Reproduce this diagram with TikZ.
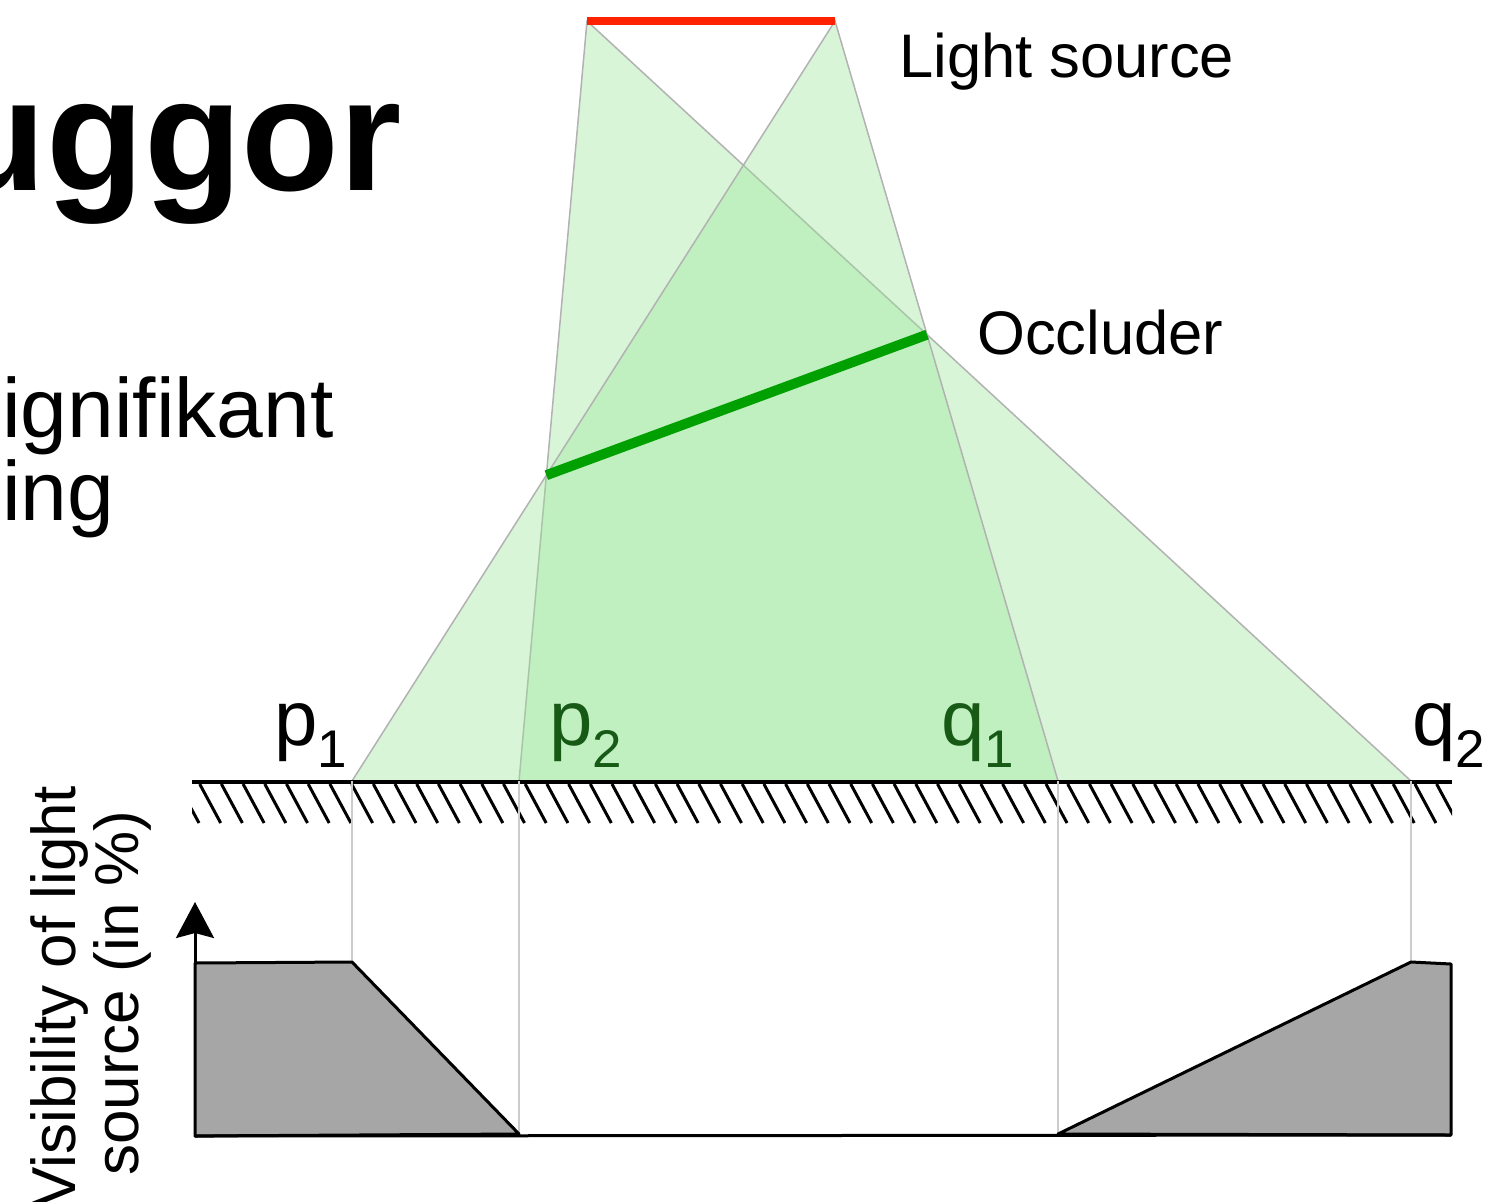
\documentclass[tikz,border=0pt]{standalone}
\usepackage{fontspec}
\setmainfont{Liberation Sans}
\usepackage{xcolor}
\usepackage{tikz}
\usetikzlibrary{arrows.meta}
\definecolor{srcred}{RGB}{255,34,0}
\definecolor{occgreen}{RGB}{0,160,0}
\definecolor{beamgreen}{RGB}{154,229,154}
\definecolor{lblgreen}{RGB}{22,90,22}
\newcommand{\ptlbl}[2]{#1\raisebox{-22pt}{\fontsize{53}{53}\selectfont#2}}

\begin{document}
\begin{tikzpicture}[x=1pt,y=-1pt]
  \tikzstyle{beam}=[fill=beamgreen,fill opacity=.385,draw=black!30,line width=1.5pt]
  \tikzstyle{tick}=[draw=black!20,line width=2pt]
  \tikzstyle{curve}=[fill=black!35,draw=black,line width=3pt,line join=round]
  \tikzstyle{pt}=[anchor=base west,inner sep=0pt,font=\fontsize{78}{78}\selectfont]
  \tikzstyle{lbl}=[anchor=base west,inner sep=0pt,font=\fontsize{61.5}{61.5}\selectfont]
  \tikzstyle{axlbl}=[rotate=90,anchor=base,inner sep=0pt,font=\fontsize{62}{62}\selectfont]
  \useasboundingbox (0,0) rectangle (1487,1201);
  \coordinate (ls1) at (587,21);
  \coordinate (ls2) at (835,21);
  \coordinate (p1) at (352,781);
  \coordinate (p2) at (519,781);
  \coordinate (q1) at (1058,781);
  \coordinate (q2) at (1411,781);
  \coordinate (oc1) at (intersection of ls1--p2 and ls2--p1);
  \coordinate (oc2) at (intersection of ls1--q2 and ls2--q1);
  \draw[beam] (ls1)--(p2)--(q2)--cycle;
  \draw[beam] (ls2)--(p1)--(q1)--cycle;
  \draw[srcred,line width=8pt] (ls1)--(ls2);
  \draw[occgreen,line width=10pt] (oc1)--(oc2);
  % ground
  \begin{scope}
    \clip (192,784) rectangle (1452,823);
    \foreach \k in {0,...,59} \draw[line width=3pt] (178+21.7*\k,784)--++(21,39);
  \end{scope}
  \draw[line width=3.5pt] (192,782)--(1452,782);
  % visibility curve
  \coordinate (g0) at (195,963);
  \coordinate (g1) at (352,962);
  \coordinate (g2) at (519,1134);
  \coordinate (g3) at (1058,1134);
  \coordinate (g4) at (1411,962);
  \coordinate (g5) at (1451,964);
  \coordinate (g6) at (1451,1135);
  \coordinate (g7) at (195,1136);
  \coordinate (ytop) at (195,902);
  \draw[tick] (p1)--(g1);
  \draw[tick] (p2)--(g2);
  \draw[tick] (q1)--(g3);
  \draw[tick] (q2)--(g4);
  \draw[curve] (g0)--(g1)--(g2)--(g7)--cycle;
  \draw[curve] (g3)--(g4)--(g5)--(g6)--cycle;
  \draw[line width=3pt] (g7)--(g6);
  \draw[line width=3pt,-{Stealth[width=38pt,length=36pt,inset=5pt]}] (g0)--(ytop);
  % texts
  \node[anchor=base east,inner sep=0pt,font=\fontsize{160}{160}\selectfont\bfseries] (title) at (402,190) {uggor};
  \node[anchor=base west,inner sep=0pt,font=\fontsize{84}{84}\selectfont] (body1) at (2,437) {ignifikant};
  \node[anchor=base west,inner sep=0pt,font=\fontsize{84}{84}\selectfont] (body2) at (2,520) {ing};
  \node[lbl] (srclbl) at (899,78) {Light source};
  \node[lbl] (occlbl) at (977,354) {Occluder};
  \node[pt] (p1lbl) at (274,745) {\ptlbl{p}{1}};
  \node[pt,text=lblgreen] (p2lbl) at (549,745) {\ptlbl{p}{2}};
  \node[pt,text=lblgreen] (q1lbl) at (941,745) {\ptlbl{q}{1}};
  \node[pt] (q2lbl) at (1412,745) {\ptlbl{q}{2}};
  \node[axlbl] (ylbl1) at (75,997) {Visibility of light};
  \node[axlbl] (ylbl2) at (138,993) {source (in \%)};
\end{tikzpicture}
\end{document}
